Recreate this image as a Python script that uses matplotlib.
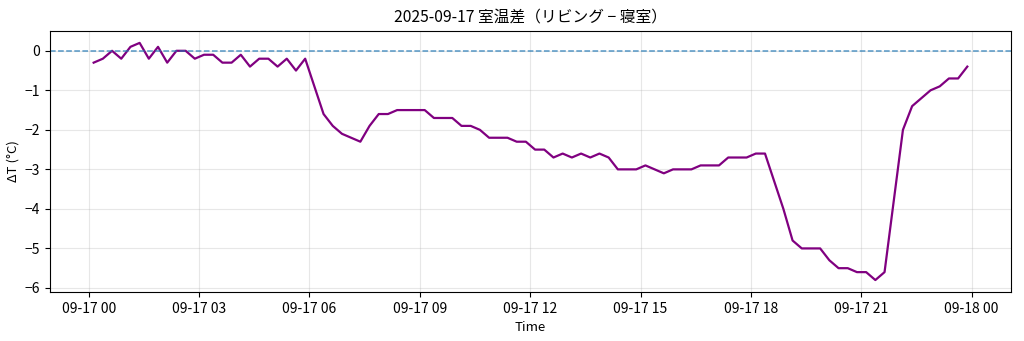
import numpy as np
import pandas as pd
import matplotlib
matplotlib.use("Agg")
import matplotlib.pyplot as plt
import matplotlib.dates as mdates

plt.rcParams['font.family'] = ['Noto Sans CJK JP', 'DejaVu Sans']

# 15-minute samples, living room minus bedroom
start_time = "2025-09-17 00:08"
delta_t = [
    -0.3, -0.2, 0.0, -0.2, 0.1, 0.2, -0.2, 0.1, -0.3, 0.0, 0.0, -0.2,
    -0.1, -0.1, -0.3, -0.3, -0.1, -0.4, -0.2, -0.2, -0.4, -0.2, -0.5, -0.2,
    -0.9, -1.6, -1.9, -2.1, -2.2, -2.3, -1.9, -1.6, -1.6, -1.5, -1.5, -1.5,
    -1.5, -1.7, -1.7, -1.7, -1.9, -1.9, -2.0, -2.2, -2.2, -2.2, -2.3, -2.3,
    -2.5, -2.5, -2.7, -2.6, -2.7, -2.6, -2.7, -2.6, -2.7, -3.0, -3.0, -3.0,
    -2.9, -3.0, -3.1, -3.0, -3.0, -3.0, -2.9, -2.9, -2.9, -2.7, -2.7, -2.7,
    -2.6, -2.6, -3.3, -4.0, -4.8, -5.0, -5.0, -5.0, -5.3, -5.5, -5.5, -5.6,
    -5.6, -5.8, -5.6, -3.8, -2.0, -1.4, -1.2, -1.0, -0.9, -0.7, -0.7, -0.4,
]
times = pd.date_range(start_time, periods=len(delta_t), freq="15min")

fig = plt.figure(figsize=(10.24, 3.41), dpi=100)
ax = fig.add_axes([0.0488, 0.144, 0.9385, 0.765])

ax.plot(times, delta_t, color="purple", linewidth=1.6)
ax.axhline(0, color="#1f77b4", linestyle="--", linewidth=1.1, alpha=0.75)

ax.set_title("2025-09-17 室温差（リビング − 寝室）", fontsize=11.3)
ax.set_xlabel("Time", fontsize=9.5)
ax.set_ylabel("ΔT (°C)", fontsize=9.5)
ax.xaxis.set_major_locator(mdates.HourLocator(byhour=range(0, 24, 3)))
ax.xaxis.set_major_formatter(mdates.DateFormatter("%m-%d %H"))
ax.tick_params(labelsize=10)
ax.grid(True, alpha=0.3)

fig.savefig("out.png", dpi=100)
